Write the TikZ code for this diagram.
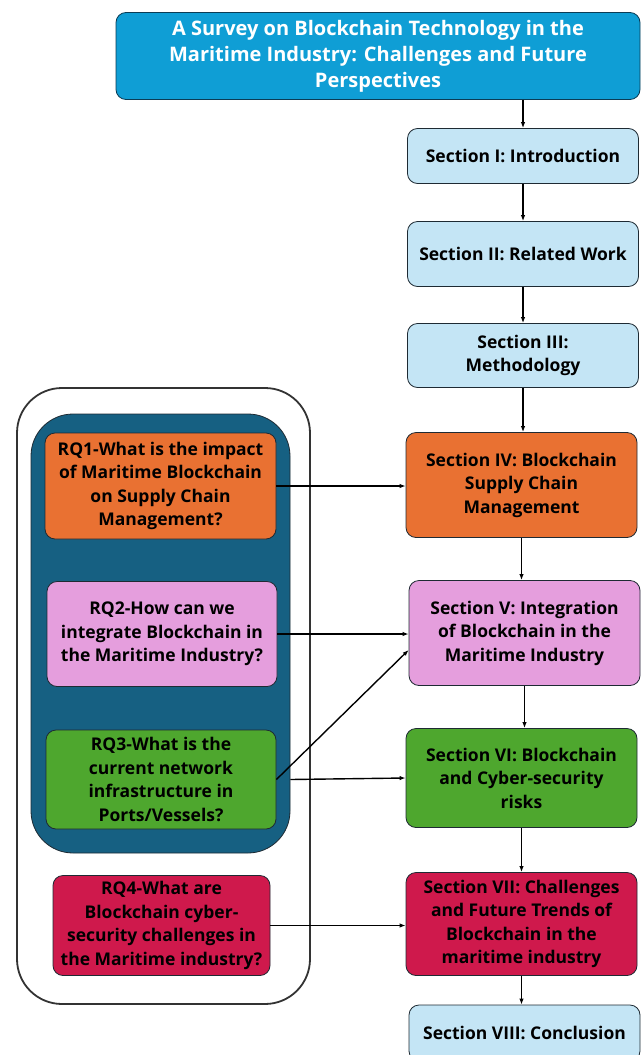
\documentclass[tikz,border=0pt]{standalone}
\usepackage{fontspec}
\setmainfont{Open Sans}
\usetikzlibrary{arrows.meta}

\definecolor{titleblue}{HTML}{0F9ED5}
\definecolor{titleline}{HTML}{0B3C55}
\definecolor{paleblue}{HTML}{C4E5F5}
\definecolor{rqorange}{HTML}{E97132}
\definecolor{rqpink}{HTML}{E59EDD}
\definecolor{rqgreen}{HTML}{4EA72E}
\definecolor{rqred}{HTML}{CF194C}
\definecolor{rqteal}{HTML}{166082}
\definecolor{boxline}{HTML}{1E2A33}
\definecolor{frameline}{HTML}{333333}

\begin{document}
\begin{tikzpicture}[x=1pt,y=-1pt,
    box/.style={draw=boxline, line width=0.8pt, rounded corners=10pt, align=center,
      inner sep=0pt, font=\bfseries\fontsize{17.5}{23.5}\selectfont},
    sec/.style={box, minimum width=231pt},
    rq/.style={box},
    arr/.style={-{Latex[length=6pt,width=4.5pt]}, line width=1.4pt}]
  \useasboundingbox (0,0) rectangle (641,1055);

  % research question panel
  \node[draw=frameline, line width=1.8pt, rounded corners=45pt,
    minimum width=293pt, minimum height=616pt] (frame) at (163.5,696) {};
  \node[draw=boxline, fill=rqteal, line width=0.8pt, rounded corners=42pt,
    minimum width=259pt, minimum height=439pt] (inner) at (160.5,633.5) {};

  \node[rq, fill=rqorange, minimum width=231pt, minimum height=106pt] (rq1) at (160.5,486)
    {RQ1-What is the impact\\of Maritime Blockchain\\on Supply Chain\\Management?};
  \node[rq, fill=rqpink, minimum width=230pt, minimum height=105pt] (rq2) at (162,634)
    {RQ2-How can we\\integrate Blockchain in\\the Maritime Industry?};
  \node[rq, fill=rqgreen, minimum width=230pt, minimum height=99pt] (rq3) at (161,779.5)
    {RQ3-What is the\\current network\\infrastructure in\\Ports/Vessels?};
  \node[rq, fill=rqred, minimum width=217pt, minimum height=100pt] (rq4) at (161.5,925.5)
    {RQ4-What are\\Blockchain cyber-\\security challenges in\\the Maritime industry?};

  % paper outline
  \node[box, fill=titleblue, draw=titleline, text=white, minimum width=524pt, minimum height=87pt,
    font=\bfseries\fontsize{20}{26}\selectfont] (title) at (378,56)
    {A Survey on Blockchain Technology in the\\Maritime Industry: Challenges and Future\\Perspectives};
  \node[sec, fill=paleblue, minimum height=55pt] (sec1) at (523,156) {Section I: Introduction};
  \node[sec, fill=paleblue, minimum height=65pt] (sec2) at (523,254) {Section II: Related Work};
  \node[sec, fill=paleblue, minimum height=64pt] (sec3) at (523,355.5) {Section III:\\Methodology};
  \node[sec, fill=rqorange, minimum height=105pt] (sec4) at (521.5,485)
    {Section IV: Blockchain\\Supply Chain\\Management};
  \node[sec, fill=rqpink, minimum height=105pt] (sec5) at (524.5,633)
    {Section V: Integration\\of Blockchain in the\\Maritime Industry};
  \node[sec, fill=rqgreen, minimum height=99pt] (sec6) at (521.5,778)
    {Section VI: Blockchain\\and Cyber-security\\risks};
  \node[sec, fill=rqred, minimum height=103pt] (sec7) at (521.5,924)
    {Section VII: Challenges\\and Future Trends of\\Blockchain in the\\maritime industry};
  \node[sec, fill=paleblue, minimum height=56pt] (sec8) at (524.5,1033) {Section VIII: Conclusion};

  \coordinate (s5low) at ([yshift=-17pt]sec5.west);

  % reading order
  \draw[arr] (title.south -| sec1.north) -- (sec1.north);
  \draw[arr] (sec1.south) -- (sec1.south |- sec2.north);
  \draw[arr] (sec2.south) -- (sec2.south |- sec3.north);
  \draw[arr] (sec3.south) -- (sec3.south |- sec4.north);
  \draw[arr] (sec4.south) -- (sec4.south |- sec5.north);
  \draw[arr] (sec5.south) -- (sec5.south |- sec6.north);
  \draw[arr] (sec6.south) -- (sec6.south |- sec7.north);
  \draw[arr] (sec7.south) -- (sec7.south |- sec8.north);

  % questions to sections
  \draw[arr] (rq1.east) -- (rq1.east -| sec4.west);
  \draw[arr] (rq2.east) -- (rq2.east -| sec5.west);
  \draw[arr] (rq3.east) -- (s5low);
  \draw[arr] (rq3.east -| inner.east) -- (sec6.west);
  \draw[arr] (rq4.east) -- (rq4.east -| sec7.west);
\end{tikzpicture}
\end{document}
